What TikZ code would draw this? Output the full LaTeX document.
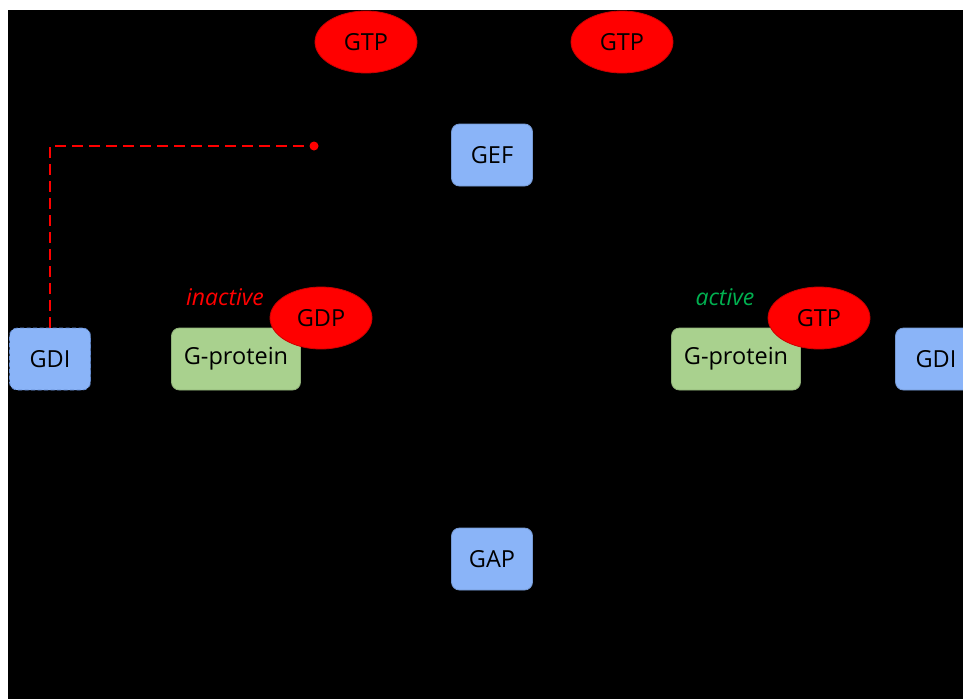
\documentclass[tikz,border=0pt]{standalone}
\usepackage{fontspec}
\setmainfont{Open Sans}
\usetikzlibrary{shapes.geometric}
\definecolor{boxblue}{RGB}{138,180,248}
\definecolor{boxblueline}{RGB}{100,140,210}
\definecolor{boxgreen}{RGB}{169,209,142}
\definecolor{ellred}{RGB}{255,0,0}
\definecolor{actgreen}{RGB}{0,176,80}
\tikzset{
  lbl/.style={font=\fontsize{23.5}{28}\selectfont, text=black},
  bluebox/.style={lbl, rectangle, rounded corners=8pt, fill=boxblue, draw=boxblue!85!black, line width=0.8pt, minimum width=81pt, minimum height=62pt, inner sep=0pt},
  greenbox/.style={lbl, rectangle, rounded corners=8pt, fill=boxgreen, draw=boxgreen!85!black, line width=0.8pt, minimum width=129pt, minimum height=62pt, inner sep=0pt},
  molecule/.style={lbl, ellipse, fill=ellred, draw=ellred!80!black, line width=0.8pt, minimum width=102pt, minimum height=62pt, inner sep=0pt},
  statelbl/.style={font=\fontsize{23}{28}\selectfont\itshape}
}
\begin{document}
\begin{tikzpicture}[x=1pt,y=-1pt]
\useasboundingbox (0,0) rectangle (963,699);
\clip (0,0) rectangle (963,699);
\fill[white] (0,0) rectangle (963,699);
\fill[black] (8,10) rectangle (963,699);

\node[molecule] (gtp1) at (366,42) {GTP};
\node[molecule] (gtp2) at (622,42) {GTP};
\node[bluebox] (gef) at (492,155) {GEF};
\node[bluebox] (gap) at (492,559) {GAP};

\node[bluebox, dash pattern=on 4pt off 2.5pt, draw=boxblueline] (gdil) at (50,359) {GDI};
\node[greenbox] (gprotl) at (236,359) {G-protein};
\node[molecule] (gdp) at (321,318) {GDP};
\node[statelbl, text=ellred] (inact) at (225,297) {inactive};

\node[greenbox] (gprotr) at (736,359) {G-protein};
\node[molecule] (gtp3) at (819,318) {GTP};
\node[statelbl, text=actgreen] (act) at (725,297) {active};
\node[bluebox] (gdir) at (936,359) {GDI};

\coordinate (dot) at (314,146);
\draw[ellred, line width=2pt, dash pattern=on 11pt off 6pt] (gdil.north) |- (dot);
\fill[ellred] (dot) circle (4.5pt);
\end{tikzpicture}
\end{document}
